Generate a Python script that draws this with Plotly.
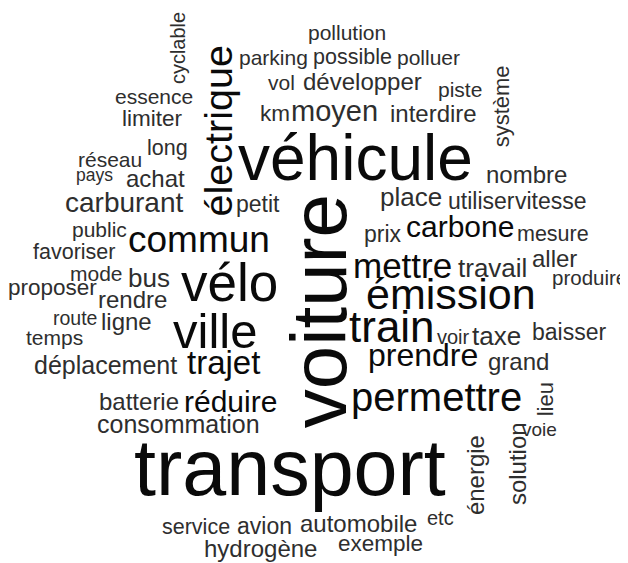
import plotly.graph_objects as go

# ---- data: words and their frequencies ----
words = [
    "pollution", "parking", "possible", "polluer", "vol", "développer", "piste",
    "km", "moyen", "interdire", "essence", "limiter", "long", "réseau", "pays",
    "achat", "nombre", "véhicule", "carburant", "petit", "public", "commun",
    "favoriser", "mode", "bus", "vélo", "proposer", "rendre", "route", "ligne",
    "ville", "temps", "déplacement", "trajet", "place", "utiliser", "vitesse",
    "prix", "carbone", "mesure", "mettre", "travail", "aller", "produire",
    "émission", "train", "voir", "taxe", "baisser", "prendre", "grand",
    "batterie", "réduire", "consommation", "transport", "service", "avion",
    "automobile", "etc", "hydrogène", "exemple", "permettre", "voie",
    "cyclable", "électrique", "système", "voiture", "lieu", "solution", "énergie",
]
freq = [
    42, 42, 43, 42, 42, 48, 42,
    45, 58, 48, 42, 45, 43, 42, 35,
    48, 48, 128, 56, 46, 42, 74,
    43, 42, 52, 106, 45, 48, 39, 48,
    98, 42, 50, 66, 52, 46, 46,
    46, 60, 43, 70, 52, 48, 41,
    86, 88, 40, 52, 46, 64, 48,
    48, 60, 50, 158, 43, 46,
    48, 40, 48, 45, 80, 38,
    40, 79, 44, 156, 44, 48, 48,
]

# ---- layout of the cloud (placement chosen by the word-cloud algorithm) ----
# (x, baseline y) for horizontal words; (baseline x, y) for vertical ones
place_x = [
    347, 273, 352, 428.5, 281.5, 362, 460,
    275, 334, 433.5, 154, 152, 167.5, 109.5, 94.5,
    155.5, 526.5, 355.5, 124, 257.5, 99.5, 198.5,
    74, 96, 149, 229, 52.5, 132, 75, 126.5,
    215, 54, 105, 223.5, 410.5, 481.5, 551,
    382.5, 460, 553, 402, 492, 554.5, 589.5,
    451, 392, 453, 496, 568.5, 423, 518,
    138.5, 230.5, 178.5, 290, 196, 264.5,
    358.5, 440, 260, 380.5, 436.5, 539.5,
    185, 233, 510, 348, 554, 526, 484,
]
place_y = [
    40, 65, 65, 65, 90, 90, 97,
    122, 122, 122, 104, 127, 156, 167, 181,
    187, 183, 182, 213, 213, 237, 253,
    260, 281, 288, 302, 296, 308, 325, 330,
    349, 345, 374, 375, 207, 210, 210,
    243, 238, 242, 278, 278, 267, 285,
    310, 343, 344, 346, 341, 367, 370,
    410, 413, 433, 497, 535, 535,
    532, 525, 557, 552, 412, 437,
    48.5, 131, 106.5, 311, 399.5, 464, 475,
]
vertical = {"cyclable", "électrique", "système", "voiture", "lieu", "solution", "énergie"}

SIZE_PER_COUNT = 0.5
BASE_SHIFT = 0.37
PAGE_MARGIN = 8  # default body margin of the html page

fig = go.Figure()
annotations = []
for w, f, px, py in zip(words, freq, place_x, place_y):
    size = f * SIZE_PER_COUNT
    if w in vertical:
        ax, ay, ang = px - BASE_SHIFT * size, py, -90
    else:
        ax, ay, ang = px, py - BASE_SHIFT * size, 0
    color = "#2e2e2e" if size < 30 else "#0a0a0a"
    annotations.append(dict(
        x=ax, y=ay, xref="x", yref="y", text=w, showarrow=False,
        textangle=ang, xanchor="center", yanchor="middle",
        font=dict(family="Arial, 'Liberation Sans', sans-serif", size=size, color=color),
    ))

fig.update_layout(
    width=628 - PAGE_MARGIN, height=563 - PAGE_MARGIN,
    margin=dict(l=0, r=0, t=0, b=0),
    paper_bgcolor="white", plot_bgcolor="white",
    xaxis=dict(range=[PAGE_MARGIN, 628], visible=False, fixedrange=True),
    yaxis=dict(range=[563, PAGE_MARGIN], visible=False, fixedrange=True),
    annotations=annotations,
    showlegend=False,
)
fig.write_html("out.html")
